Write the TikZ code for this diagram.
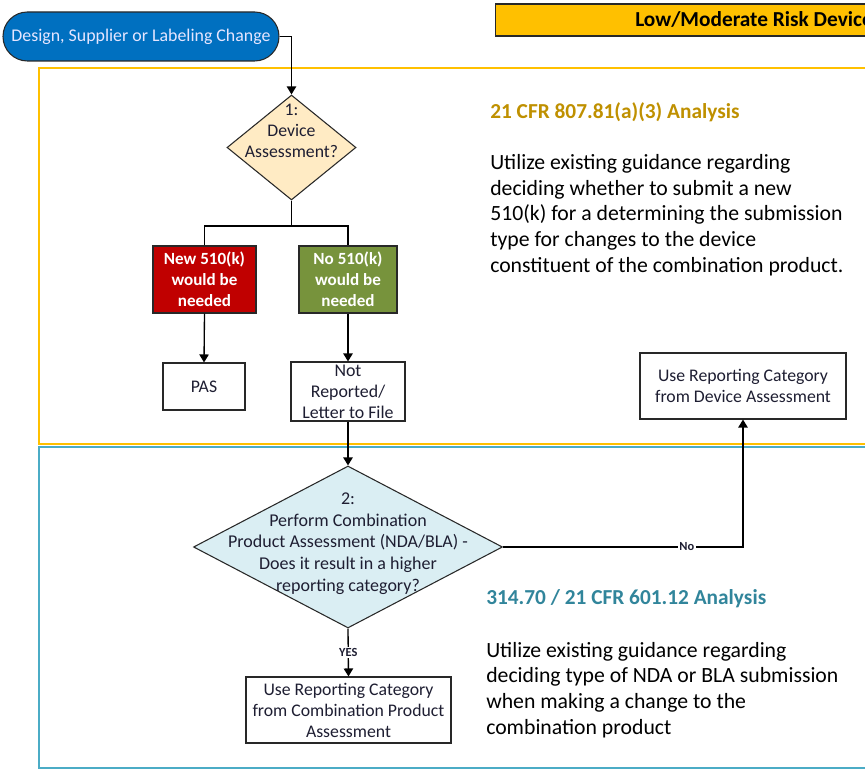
\documentclass[tikz,border=0pt]{standalone}
\usepackage{fontspec}
\setmainfont{Carlito}
\usetikzlibrary{shapes.geometric,arrows.meta}
\definecolor{startblue}{RGB}{0,112,192}
\definecolor{hdrorange}{RGB}{255,192,0}
\definecolor{zoneyellow}{RGB}{255,192,0}
\definecolor{zoneblue}{RGB}{75,172,198}
\definecolor{diaonefill}{RGB}{255,235,196}
\definecolor{diatwofill}{RGB}{218,238,243}
\definecolor{redbox}{RGB}{192,0,0}
\definecolor{greenbox}{RGB}{119,147,60}
\definecolor{goldtitle}{RGB}{191,144,0}
\definecolor{tealtitle}{RGB}{49,133,155}
\definecolor{txt}{RGB}{30,30,50}
\definecolor{edge}{RGB}{40,40,40}
\begin{document}
\begin{tikzpicture}[x=0.75pt,y=-0.75pt,
  box/.style={draw=edge,line width=0.8pt,fill=white,inner sep=0pt,text=txt,align=center,font=\fontsize{13.3}{15.75}\selectfont},
  colbox/.style={draw=edge,line width=0.8pt,inner sep=0pt,text=white,align=center,font=\bfseries\fontsize{12.8}{15.75}\selectfont},
  dia/.style={diamond,draw=edge,line width=0.8pt,inner sep=0pt},
  lbl/.style={inner sep=0pt,text=txt,align=center},
  conn/.style={draw=black,line width=1pt},
  arr/.style={conn,-{Triangle[length=6pt,width=7pt]}},
  zone/.style={line width=1.1pt},
  para/.style={inner sep=0pt,anchor=west,align=left,text=black,font=\fontsize{16.3}{19.3}\selectfont},
  ttl/.style={inner sep=0pt,anchor=west,font=\bfseries\fontsize{16}{18}\selectfont},
  edgelbl/.style={fill=white,inner sep=1pt,text=txt,font=\bfseries\fontsize{9.3}{11}\selectfont}
]
\useasboundingbox (0,0) rectangle (865,773);
\clip (0,0) rectangle (865,773);

% zones
\draw[zone,draw=zoneyellow] (39,68) rectangle (1000,444);
\draw[zone,draw=zoneblue] (39,447) rectangle (1000,768);

% header
\node[draw=edge,line width=0.9pt,fill=hdrorange,anchor=west,minimum width=378.75pt,minimum height=24pt,inner sep=0pt] (hdr) at (495,20) {};
\node[inner sep=0pt,anchor=west,font=\bfseries\fontsize{16}{18}\selectfont,text=black] (hdrt) at (635,20) {Low/Moderate Risk Device};

% start
\node[draw=edge,line width=0.8pt,fill=startblue,rounded corners=18.3pt,minimum width=207pt,minimum height=36.75pt,inner sep=0pt,text=white!90!blue,font=\fontsize{13.4}{15}\selectfont] (start) at (141,36.5) {Design, Supplier or Labeling Change};

% diamond 1
\node[dia,fill=diaonefill,minimum width=96.75pt,minimum height=78.75pt] (d1) at (291.5,147.5) {};
\node[lbl,font=\fontsize{13.3}{15.75}\selectfont] (d1t) at (291.5,131) {1:\\Device\\Assessment?};

% outcome boxes
\node[colbox,fill=redbox,minimum width=77.25pt,minimum height=50.25pt] (red) at (204.5,279.5) {New 510(k)\\would be\\needed};
\node[colbox,fill=greenbox,minimum width=73.5pt,minimum height=50.25pt] (green) at (348,279.5) {No 510(k)\\would be\\needed};
\node[box,minimum width=61.5pt,minimum height=35.25pt] (pas) at (204,386.5) {PAS};
\node[box,minimum width=85.5pt,minimum height=44.25pt] (nr) at (348,391.5) {};
\node[lbl,font=\fontsize{13.4}{15.75}\selectfont] (nrt) at (348,391.5) {Not\\Reported/\\Letter to File};

% device assessment result
\node[box,minimum width=154.5pt,minimum height=49.5pt] (dev) at (743,386) {Use Reporting Category\\from Device Assessment};

% diamond 2
\node[dia,fill=diatwofill,minimum width=231.75pt,minimum height=121.5pt] (d2) at (348,547) {};
\node[lbl,font=\fontsize{13.5}{16.3}\selectfont] (d2t) at (348,543.5) {2:\\Perform Combination\\Product Assessment (NDA/BLA) -\\Does it result in a higher\\reporting category?};

\node[box,minimum width=153.75pt,minimum height=49.5pt] (combo) at (348.5,710) {Use Reporting Category\\from Combination Product\\Assessment};

% connectors
\coordinate (split) at (291.5,226);
\draw[arr] (start.east) -| (d1.north);
\draw[conn] (d1.south) -- (split);
\draw[conn] (red.north) |- (split) -| (green.north);
\draw[arr] (red.south) -- (pas.north);
\draw[arr] (green.south) -- (nr.north);
\draw[arr] (nr.south) -- (d2.north);
\draw[arr] (d2.east) -| node[edgelbl,pos=0.383] (nolbl) {No} (dev.south);
\draw[arr] (d2.south) -- node[edgelbl] (yeslbl) {YES} (combo.north);

% text panels
\node[ttl,text=goldtitle] (t1) at (490,112) {21 CFR 807.81(a)(3) Analysis};
\node[para] (p1) at (490,215) {Utilize existing guidance regarding\\deciding whether to submit a new\\510(k) for a determining the submission\\type for changes to the device\\constituent of the combination product.};
\node[ttl,text=tealtitle] (t2) at (486,599) {314.70 / 21 CFR 601.12 Analysis};
\node[para] (p2) at (486,690) {Utilize existing guidance regarding\\deciding type of NDA or BLA submission\\when making a change to the\\combination product};
\end{tikzpicture}
\end{document}
